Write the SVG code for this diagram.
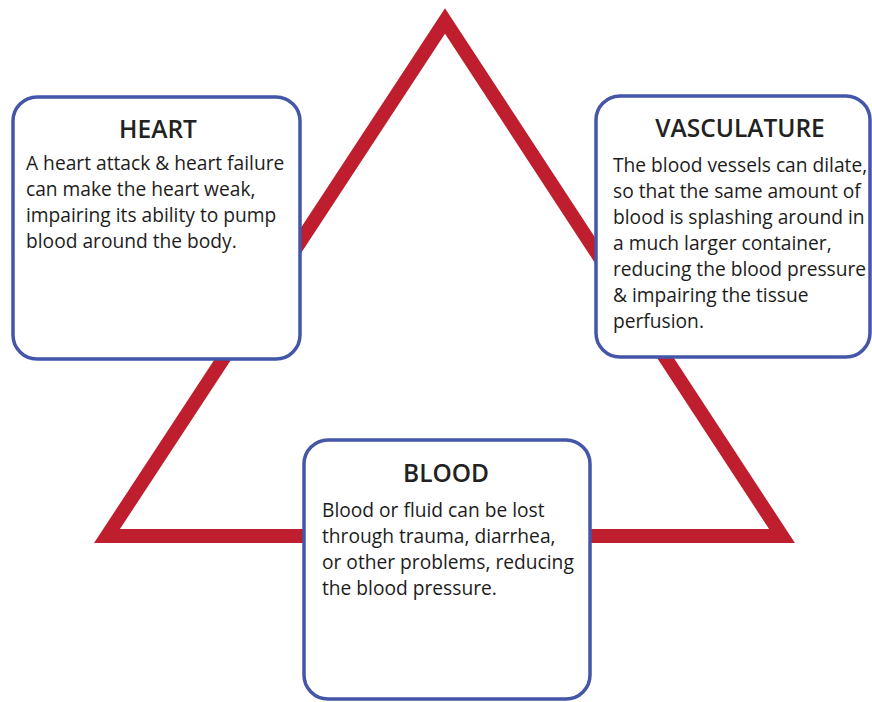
<svg xmlns="http://www.w3.org/2000/svg" width="872" height="702" viewBox="0 0 872 702">
<style>
.box{fill:#fff;stroke:#4356a8;stroke-width:3.5}
.title{font-family:"Open Sans","Noto Sans",sans-serif;font-weight:600;font-size:24.5px;fill:#222;text-anchor:middle}
.body{font-family:"Open Sans","Noto Sans",sans-serif;font-weight:500;font-size:19.2px;fill:#1c1c1c}
.tri{fill:none;stroke:#bf1e2e;stroke-width:14;stroke-linejoin:miter;stroke-miterlimit:10}
</style>
<rect width="872" height="702" fill="#fff"/>
<g id="connectors">
<polygon class="tri" points="445,21 782,536 107,536"/>
</g>
<g id="heart">
<rect class="box" x="13" y="97" width="287" height="262" rx="24"/>
<text class="title" x="158" y="138">HEART</text>
<text class="body" x="26"><tspan x="26" y="170">A heart attack &amp; heart failure</tspan><tspan x="26" y="196">can make the heart weak,</tspan><tspan x="26" y="222">impairing its ability to pump</tspan><tspan x="26" y="248">blood around the body.</tspan></text>
</g>
<g id="vasculature">
<rect class="box" x="596" y="96" width="274" height="261" rx="24"/>
<text class="title" x="740" y="137">VASCULATURE</text>
<text class="body" x="613"><tspan x="613" y="172">The blood vessels can dilate,</tspan><tspan x="613" y="198">so that the same amount of</tspan><tspan x="613" y="224">blood is splashing around in</tspan><tspan x="613" y="250">a much larger container,</tspan><tspan x="613" y="276">reducing the blood pressure</tspan><tspan x="613" y="302">&amp; impairing the tissue</tspan><tspan x="613" y="328">perfusion.</tspan></text>
</g>
<g id="blood">
<rect class="box" x="304" y="440" width="286" height="259" rx="24"/>
<text class="title" x="446" y="482">BLOOD</text>
<text class="body" x="322"><tspan x="322" y="517">Blood or fluid can be lost</tspan><tspan x="322" y="543">through trauma, diarrhea,</tspan><tspan x="322" y="569">or other problems, reducing</tspan><tspan x="322" y="595">the blood pressure.</tspan></text>
</g>
</svg>
